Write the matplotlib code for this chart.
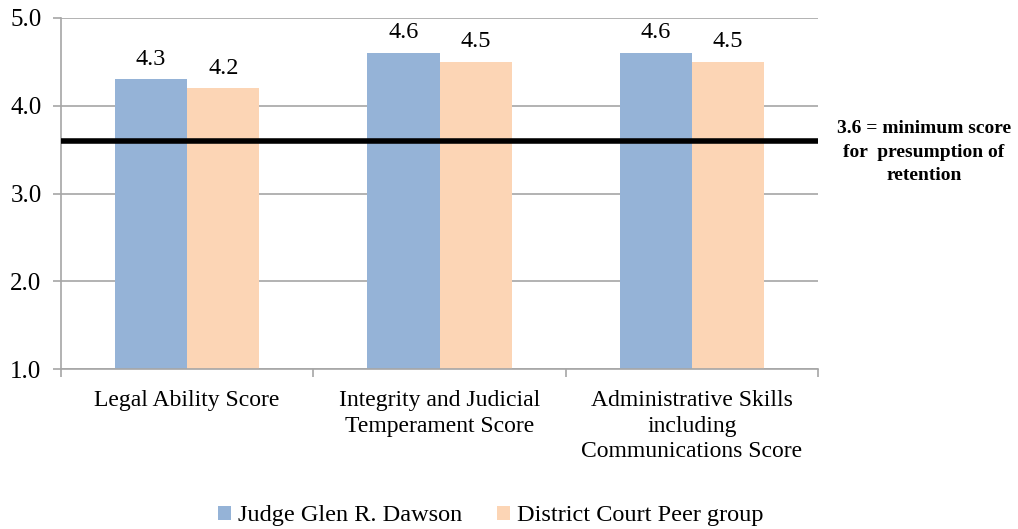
import matplotlib

matplotlib.use("Agg")
import matplotlib.pyplot as plt
import numpy as np

categories = [
    "Legal Ability Score",
    "Integrity and Judicial\nTemperament Score",
    "Administrative Skills\nincluding\nCommunications Score",
]
judge_scores = [4.3, 4.6, 4.6]
peer_scores = [4.2, 4.5, 4.5]
series_names = ["Judge Glen R. Dawson", "District Court Peer group"]
y_ticks = [1.0, 2.0, 3.0, 4.0, 5.0]
minimum_score = 3.6
minimum_note = "3.6 = minimum score\nfor  presumption of\nretention"

plt.rcParams["font.family"] = ["Liberation Serif", "DejaVu Serif"]

fig = plt.figure(figsize=(10.18, 5.29), dpi=100)
ax = fig.add_axes([61 / 1018, 1 - 369 / 529, 757 / 1018, 351 / 529])

x = np.arange(len(categories))
width = 0.286
blue = "#95B3D7"
peach = "#FCD5B5"
grid_gray = "#A6A6A6"

bars_judge = ax.bar(x - width / 2, np.array(judge_scores) - 1.0, width, bottom=1.0,
                    color=blue, label=series_names[0], zorder=2)
bars_peer = ax.bar(x + width / 2, np.array(peer_scores) - 1.0, width, bottom=1.0,
                   color=peach, label=series_names[1], zorder=2)

for bars, vals in ((bars_judge, judge_scores), (bars_peer, peer_scores)):
    for bar, v in zip(bars, vals):
        ax.text(bar.get_x() + bar.get_width() / 2, v + 0.11, f"{v:.1f}",
                ha="center", va="bottom", fontsize=17.5)

ax.axhline(minimum_score, color="black", linewidth=4, zorder=3)

ax.set_xlim(-0.5, len(categories) - 0.5)
ax.set_ylim(1.0, 5.0)
ax.set_yticks(y_ticks)
ax.set_yticklabels([f"{t:.1f}" for t in y_ticks], fontsize=18)
ax.yaxis.grid(True, color=grid_gray, linewidth=1.2, zorder=0)
ax.set_axisbelow(True)

ax.set_xticks(x)
ax.set_xticklabels(categories, fontsize=17, linespacing=1.3)
ax.set_xticks(np.arange(len(categories) + 1) - 0.5, minor=True)
ax.tick_params(axis="x", which="major", length=0, pad=15)
ax.tick_params(axis="x", which="minor", length=6, color=grid_gray, width=1.2)
ax.tick_params(axis="y", length=6, color=grid_gray, width=1.2, pad=8)

for side in ("top", "right"):
    ax.spines[side].set_visible(False)
for side in ("left", "bottom"):
    ax.spines[side].set_color(grid_gray)
    ax.spines[side].set_linewidth(1.2)

fig.text(924 / 1018, 1 - 152 / 529, minimum_note, ha="center", va="center",
         fontsize=14, fontweight="bold", linespacing=1.5)

fig.legend(loc="center", bbox_to_anchor=(0.482, 1 - 516 / 529), ncol=2, frameon=False,
           fontsize=17.5, handlelength=0.55, handleheight=0.55, handletextpad=0.3,
           columnspacing=1.4)

fig.savefig("out.png", dpi=100)
